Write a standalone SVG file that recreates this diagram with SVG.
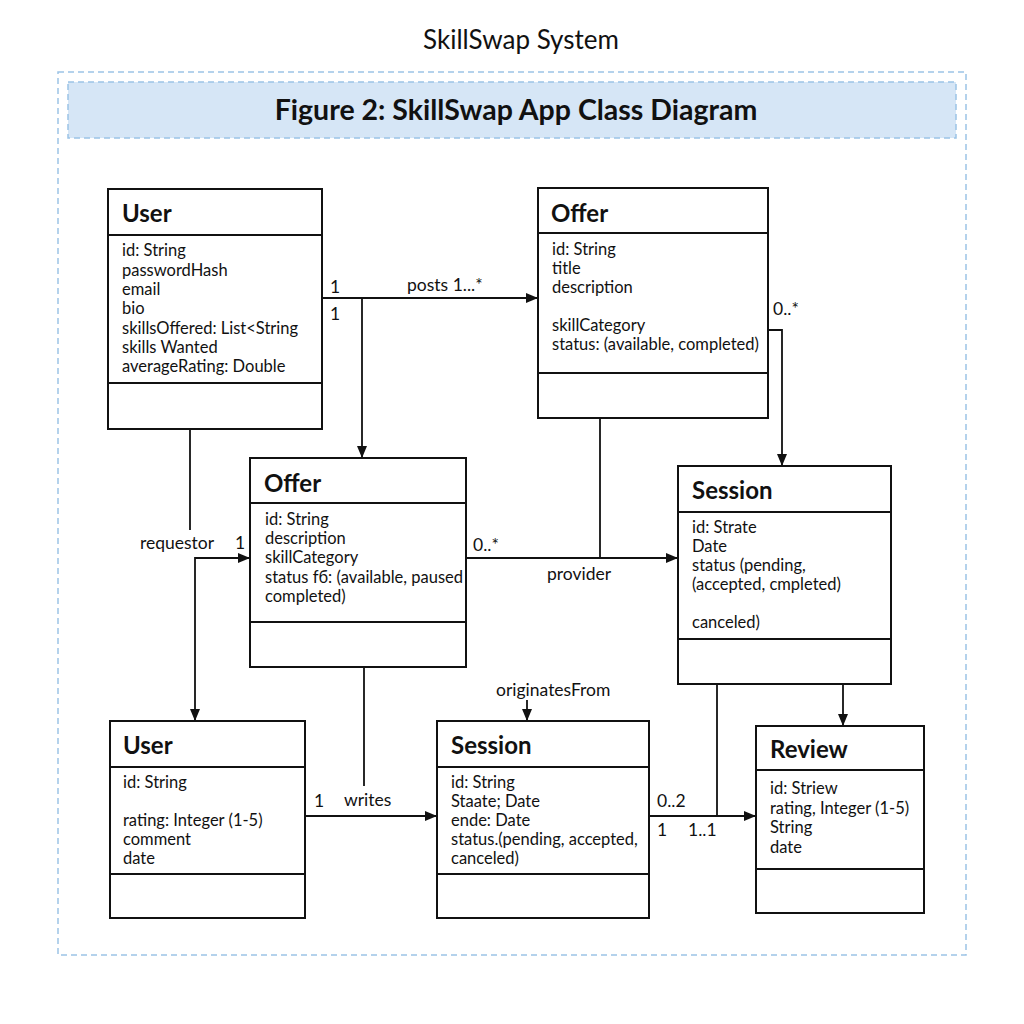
<svg xmlns="http://www.w3.org/2000/svg" width="1024" height="1024" viewBox="0 0 1024 1024">
<defs>
<style>
.box{fill:#fff;stroke:#111;stroke-width:2}
.div{stroke:#111;stroke-width:2}
.title{font-family:Lato,"Liberation Sans",sans-serif;font-weight:bold;font-size:24px;fill:#111}
.attr{font-family:Lato,"Liberation Sans",sans-serif;font-size:16.5px;fill:#111}
.lbl{font-family:Lato,"Liberation Sans",sans-serif;font-size:17.5px;fill:#111}
.conn{fill:none;stroke:#111;stroke-width:1.8}
</style>
<marker id="arr" viewBox="0 0 12 10" refX="12" refY="5" markerWidth="12" markerHeight="10" markerUnits="userSpaceOnUse" orient="auto-start-reverse">
<path d="M0,0 L12,5 L0,10 z" fill="#111"/>
</marker>
</defs>
<rect width="1024" height="1024" fill="#fff"/>
<text x="521" y="49" text-anchor="middle" font-family="Lato,'Liberation Sans',sans-serif" font-size="26" fill="#111">SkillSwap System</text>
<rect x="58" y="72" width="908" height="883" fill="none" stroke="#9cc3e6" stroke-width="1.5" stroke-dasharray="6 4"/>
<rect x="68" y="82" width="888" height="56" fill="#d6e6f6" stroke="#9cc3e6" stroke-width="1.5" stroke-dasharray="6 4"/>
<text x="516" y="120" text-anchor="middle" font-family="Lato,'Liberation Sans',sans-serif" font-weight="bold" font-size="28.5" fill="#111">Figure 2: SkillSwap App Class Diagram</text>

<g id="connectors">
<path class="conn" d="M322,298 H538" marker-end="url(#arr)"/>
<path class="conn" d="M362,298 V458" marker-end="url(#arr)"/>
<path class="conn" d="M190,429 V530"/>
<path class="conn" d="M195,721 V558 H250" marker-start="url(#arr)" marker-end="url(#arr)"/>
<path class="conn" d="M466,558 H678" marker-end="url(#arr)"/>
<path class="conn" d="M600,418 V558"/>
<path class="conn" d="M768,330 H782 V466" marker-end="url(#arr)"/>
<path class="conn" d="M364,667 V786"/>
<path class="conn" d="M305,816 H437" marker-end="url(#arr)"/>
<path class="conn" d="M527,700 V721" marker-end="url(#arr)"/>
<path class="conn" d="M649,816 H756" marker-end="url(#arr)"/>
<path class="conn" d="M717,684 V816"/>
<path class="conn" d="M843,684 V726" marker-end="url(#arr)"/>
<text class="lbl" x="330" y="293">1</text>
<text class="lbl" x="330" y="320">1</text>
<text class="lbl" x="407" y="291">posts  1...*</text>
<text class="lbl" x="140" y="549">requestor</text>
<text class="lbl" x="235" y="549">1</text>
<text class="lbl" x="473" y="551">0..*</text>
<text class="lbl" x="547" y="580">provider</text>
<text class="lbl" x="773" y="315">0..*</text>
<text class="lbl" x="314" y="807">1</text>
<text class="lbl" x="344" y="806">writes</text>
<text class="lbl" x="496" y="696">originatesFrom</text>
<text class="lbl" x="657" y="807">0..2</text>
<text class="lbl" x="657" y="836">1</text>
<text class="lbl" x="688" y="836">1..1</text>
</g>

<g id="user-top">
<rect class="box" x="108" y="189" width="214" height="240"/>
<line class="div" x1="108" y1="235" x2="322" y2="235"/>
<line class="div" x1="108" y1="383" x2="322" y2="383"/>
<text class="title" x="122" y="222">User</text>
<text class="attr" x="122" y="256">id: String</text>
<text class="attr" x="122" y="276">passwordHash</text>
<text class="attr" x="122" y="295">email</text>
<text class="attr" x="122" y="314">bio</text>
<text class="attr" x="122" y="334">skillsOffered: List&lt;String</text>
<text class="attr" x="122" y="353">skills Wanted</text>
<text class="attr" x="122" y="372">averageRating: Double</text>
</g>

<g id="offer-top">
<rect class="box" x="538" y="188" width="230" height="230"/>
<line class="div" x1="538" y1="233" x2="768" y2="233"/>
<line class="div" x1="538" y1="373" x2="768" y2="373"/>
<text class="title" x="551" y="222">Offer</text>
<text class="attr" x="552" y="255">id: String</text>
<text class="attr" x="552" y="274">title</text>
<text class="attr" x="552" y="293">description</text>
<text class="attr" x="552" y="331">skillCategory</text>
<text class="attr" x="552" y="350">status:  (available, completed)</text>
</g>

<g id="offer-mid">
<rect class="box" x="250" y="458" width="216" height="209"/>
<line class="div" x1="250" y1="503" x2="466" y2="503"/>
<line class="div" x1="250" y1="622" x2="466" y2="622"/>
<text class="title" x="264" y="492">Offer</text>
<text class="attr" x="265" y="525">id: String</text>
<text class="attr" x="265" y="544">description</text>
<text class="attr" x="265" y="563">skillCategory</text>
<text class="attr" x="265" y="583">status fб: (available, paused</text>
<text class="attr" x="265" y="602">completed)</text>
</g>

<g id="session-mid">
<rect class="box" x="678" y="466" width="213" height="218"/>
<line class="div" x1="678" y1="512" x2="891" y2="512"/>
<line class="div" x1="678" y1="639" x2="891" y2="639"/>
<text class="title" x="692" y="499">Session</text>
<text class="attr" x="692" y="533">id: Strate</text>
<text class="attr" x="692" y="552">Date</text>
<text class="attr" x="692" y="571">status  (pending,</text>
<text class="attr" x="692" y="590">(accepted, cmpleted)</text>
<text class="attr" x="692" y="628">canceled)</text>
</g>

<g id="user-bottom">
<rect class="box" x="110" y="721" width="195" height="197"/>
<line class="div" x1="110" y1="767" x2="305" y2="767"/>
<line class="div" x1="110" y1="874" x2="305" y2="874"/>
<text class="title" x="123" y="754">User</text>
<text class="attr" x="123" y="788">id: String</text>
<text class="attr" x="123" y="826">rating: Integer (1-5)</text>
<text class="attr" x="123" y="845">comment</text>
<text class="attr" x="123" y="864">date</text>
</g>

<g id="session-bottom">
<rect class="box" x="437" y="721" width="212" height="197"/>
<line class="div" x1="437" y1="767" x2="649" y2="767"/>
<line class="div" x1="437" y1="874" x2="649" y2="874"/>
<text class="title" x="451" y="754">Session</text>
<text class="attr" x="451" y="788">id: String</text>
<text class="attr" x="451" y="807">Staate; Date</text>
<text class="attr" x="451" y="826">ende: Date</text>
<text class="attr" x="451" y="845">status.(pending, accepted,</text>
<text class="attr" x="451" y="864">canceled)</text>
</g>

<g id="review">
<rect class="box" x="756" y="726" width="168" height="187"/>
<line class="div" x1="756" y1="770" x2="924" y2="770"/>
<line class="div" x1="756" y1="869" x2="924" y2="869"/>
<text class="title" x="770" y="758">Review</text>
<text class="attr" x="770" y="794">id: Striew</text>
<text class="attr" x="770" y="814">rating, Integer (1-5)</text>
<text class="attr" x="770" y="833">String</text>
<text class="attr" x="770" y="853">date</text>
</g>
</svg>
